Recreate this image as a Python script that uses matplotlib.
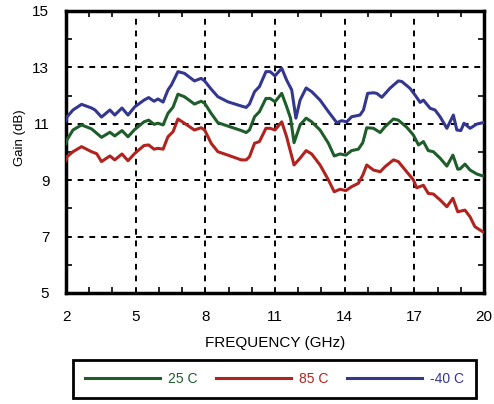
import matplotlib
matplotlib.use("Agg")
import matplotlib.pyplot as plt

plt.rcParams['font.family'] = ['Liberation Sans', 'DejaVu Sans']

# -40 C
freq_m40 = [2.0, 2.04, 2.3, 2.67, 3.1, 3.25, 3.53, 3.89, 4.1, 4.41, 4.67, 4.96, 5.36, 5.56,
            5.79, 5.96, 6.18, 6.39, 6.54, 6.82, 7.1, 7.53, 7.82, 7.97, 8.25, 8.54, 8.97,
            9.55, 9.76, 9.9, 10.12, 10.33, 10.61, 10.79, 11.0, 11.29, 11.5, 11.72, 11.9,
            12.08, 12.34, 12.58, 12.94, 13.3, 13.66, 13.87, 14.09, 14.3, 14.66, 14.81,
            14.99, 15.24, 15.38, 15.6, 15.95, 16.31, 16.46, 16.81, 17.03, 17.25, 17.39,
            17.53, 17.68, 17.89, 18.11, 18.4, 18.68, 18.83, 19.0, 19.14, 19.4, 19.69,
            19.95, 20.0]
gain_m40 = [11.1, 11.24, 11.49, 11.69, 11.56, 11.49, 11.24, 11.49, 11.31, 11.56, 11.31, 11.6,
            11.84, 11.93, 11.8, 11.88, 11.77, 12.2, 12.38, 12.85, 12.79, 12.52, 12.61, 12.52,
            12.23, 11.96, 11.78, 11.63, 11.58, 11.7, 12.14, 12.32, 12.85, 12.85, 12.7, 12.97,
            12.55, 12.2, 11.2, 11.84, 12.27, 12.14, 11.84, 11.43, 11.04, 11.11, 11.07, 11.25,
            11.31, 11.49, 12.08, 12.1, 12.08, 11.94, 12.26, 12.52, 12.5, 12.26, 12.02, 11.76,
            11.84, 11.7, 11.55, 11.49, 11.25, 10.84, 11.31, 10.78, 10.76, 11.02, 10.84, 10.99,
            11.04, 11.05]

# 25 C
freq_25 = [2.0, 2.04, 2.3, 2.67, 3.1, 3.53, 3.89, 4.1, 4.41, 4.67, 4.96, 5.36, 5.56, 5.79,
           5.96, 6.18, 6.39, 6.61, 6.82, 7.1, 7.53, 7.82, 7.97, 8.25, 8.54, 8.97, 9.55, 9.76,
           9.9, 10.12, 10.33, 10.61, 10.79, 11.0, 11.29, 11.5, 11.67, 11.82, 12.08, 12.34,
           12.58, 12.94, 13.3, 13.55, 13.8, 14.05, 14.3, 14.59, 14.78, 14.95, 15.24, 15.53,
           15.74, 16.1, 16.31, 16.67, 16.96, 17.18, 17.39, 17.6, 17.82, 18.11, 18.4, 18.66,
           18.87, 18.97, 19.18, 19.4, 19.69, 19.95, 20.0]
gain_25 = [10.3, 10.43, 10.78, 10.96, 10.82, 10.52, 10.7, 10.57, 10.76, 10.54, 10.8, 11.07,
           11.13, 10.98, 11.02, 10.96, 11.37, 11.59, 12.05, 11.96, 11.7, 11.8, 11.73, 11.37,
           11.04, 10.92, 10.76, 10.69, 10.78, 11.25, 11.43, 11.9, 11.9, 11.78, 12.08, 11.61,
           11.2, 10.33, 10.96, 11.2, 11.07, 10.78, 10.31, 9.86, 9.93, 9.89, 10.05, 10.1, 10.33,
           10.86, 10.84, 10.69, 10.9, 11.17, 11.13, 10.88, 10.6, 10.25, 10.37, 10.05, 10.01,
           9.78, 9.5, 9.89, 9.39, 9.4, 9.57, 9.36, 9.22, 9.15, 9.15]

# 85 C
freq_85 = [2.0, 2.04, 2.3, 2.67, 3.1, 3.32, 3.53, 3.89, 4.1, 4.41, 4.67, 4.96, 5.36, 5.56,
           5.79, 5.96, 6.18, 6.39, 6.61, 6.82, 7.1, 7.53, 7.82, 7.97, 8.25, 8.54, 8.97, 9.55,
           9.76, 9.9, 10.12, 10.33, 10.61, 10.79, 11.0, 11.29, 11.5, 11.82, 12.08, 12.34,
           12.58, 12.94, 13.3, 13.55, 13.8, 14.05, 14.3, 14.59, 14.78, 14.95, 15.24, 15.53,
           15.74, 16.1, 16.31, 16.67, 16.96, 17.1, 17.39, 17.6, 17.82, 18.11, 18.4, 18.66,
           18.87, 19.18, 19.4, 19.61, 19.95, 20.0]
gain_85 = [9.7, 9.83, 10.01, 10.19, 10.01, 9.94, 9.66, 9.86, 9.72, 9.93, 9.69, 9.95, 10.23,
           10.25, 10.1, 10.13, 10.1, 10.54, 10.72, 11.17, 11.02, 10.78, 10.86, 10.78, 10.31,
           10.01, 9.89, 9.72, 9.72, 9.83, 10.31, 10.37, 10.84, 10.84, 10.78, 11.07, 10.54,
           9.54, 9.78, 10.05, 9.93, 9.54, 9.01, 8.59, 8.68, 8.63, 8.77, 8.89, 9.18, 9.54,
           9.36, 9.3, 9.48, 9.72, 9.66, 9.3, 9.01, 8.73, 8.82, 8.53, 8.51, 8.3, 8.06, 8.36,
           7.88, 7.94, 7.7, 7.35, 7.17, 7.15]

labels = ['25 C', '85 C', '-40 C']
colors = ['#1f5e2b', '#b0231e', '#34378f']
xticks = [2, 5, 8, 11, 14, 17, 20]
yticks = [5, 7, 9, 11, 13, 15]

fig = plt.figure(figsize=(4.94, 4.04), dpi=100)
ax = fig.add_axes([66 / 494, 1 - 293 / 404, 418 / 494, 282 / 404])

for f, g, lab, c in zip([freq_25, freq_85, freq_m40], [gain_25, gain_85, gain_m40],
                        labels, colors):
    ax.plot(f, g, color=c, lw=2.2, label=lab, zorder=3)

ax.set_xlim(2, 20)
ax.set_ylim(5, 15)
ax.set_xticks(xticks)
ax.set_yticks(yticks)
ax.set_xticks(range(2, 21), minor=True)
ax.set_yticks(range(5, 16), minor=True)
ax.tick_params(which='both', direction='in', top=True, right=True, width=1.2)
ax.tick_params(which='major', length=0, labelsize=11)
ax.tick_params(axis='x', which='major', pad=12)
ax.tick_params(axis='y', which='major', pad=12)
ax.tick_params(which='minor', length=4)
ax.grid(which='major', color='black', linestyle=(0, (3, 3)), lw=1.4)
for s in ax.spines.values():
    s.set_linewidth(2.5)

ax.set_xlabel('FREQUENCY (GHz)', fontsize=11, labelpad=9)
ax.set_ylabel('Gain (dB)', fontsize=9.5)
ax.yaxis.set_label_coords(-0.095, 0.55)

leg = fig.legend(loc='center', ncol=3,
                 bbox_to_anchor=(274.5 / 494, 1 - 379 / 404),
                 fancybox=False, edgecolor='black', fontsize=10, handlelength=5.4,
                 handletextpad=0.6, columnspacing=1.3, borderpad=0.85,
                 labelcolor='linecolor')
leg.get_frame().set_linewidth(2.0)
leg.get_frame().set_alpha(1)

fig.savefig('out.png', dpi=100)
